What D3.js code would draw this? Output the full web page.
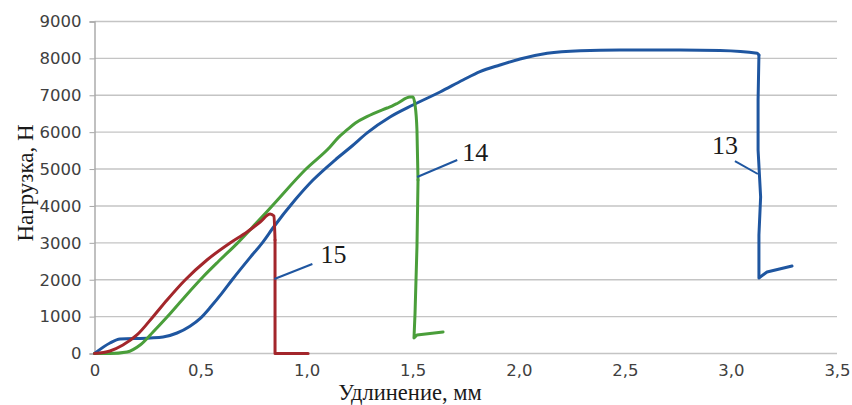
<!DOCTYPE html>
<html>
<head>
<meta charset="utf-8">
<script src="https://cdn.jsdelivr.net/npm/d3@7"></script>
<style>
  body { margin: 0; background: #fff; }
  .tick text { font-family: "DejaVu Sans", sans-serif; font-size: 16.5px; fill: #404040; }
  .axis-title, .mark-label { font-family: "Liberation Serif", "Times New Roman", serif; fill: #1a1a1a; }
</style>
</head>
<body>
<div id="chart"></div>
<script>
const width = 852;
const height = 405;

// elongation (mm) / load (N)
const s13x = [0, 0.073, 0.120, 0.262, 0.323, 0.389, 0.450, 0.500, 0.550, 0.600, 0.649, 0.733, 0.791, 0.841, 0.945, 1.030, 1.134, 1.214, 1.285, 1.393, 1.501, 1.629, 1.737, 1.817, 1.911, 2.006, 2.134, 2.290, 2.477, 2.760, 2.949, 3.124, 3.132, 3.128, 3.128, 3.140, 3.132, 3.132, 3.170, 3.288];
const s13y = [0, 285, 393, 420, 447, 556, 740, 960, 1280, 1630, 2000, 2600, 3000, 3402, 4161, 4703, 5245, 5625, 5980, 6411, 6736, 7089, 7414, 7640, 7820, 7983, 8138, 8208, 8227, 8227, 8214, 8138, 8092, 6872, 5516, 4242, 3212, 2047, 2209, 2372];

const s14x = [0, 0.073, 0.153, 0.215, 0.276, 0.342, 0.417, 0.511, 0.585, 0.675, 0.757, 0.837, 0.997, 1.110, 1.150, 1.190, 1.230, 1.284, 1.379, 1.402, 1.431, 1.487, 1.501, 1.511, 1.520, 1.525, 1.520, 1.511, 1.506, 1.520, 1.643];
const s14y = [0, 0, 41, 230, 583, 989, 1480, 2074, 2500, 3000, 3500, 4000, 5002, 5600, 5860, 6060, 6250, 6420, 6655, 6709, 6791, 6953, 6953, 6736, 6059, 4703, 2887, 1098, 420, 502, 583];

const s15x = [0, 0.073, 0.134, 0.200, 0.276, 0.342, 0.427, 0.530, 0.639, 0.719, 0.781, 0.828, 0.846, 0.851, 0.851, 1.007];
const s15y = [0, 68, 230, 502, 998, 1450, 1992, 2535, 2995, 3294, 3565, 3782, 3727, 3077, 0, 0];

const seriesNames = ['13', '14', '15'];
const seriesColors = ['#1f56a0', '#4a9e3a', '#a3262b'];

// curve numbers with their leader lines (data coordinates)
const labelX = [2.911, 1.733, 1.065];
const labelY = [5400, 5218, 2453];
const leaderX1 = [3.019, 1.710, 1.027];
const leaderY1 = [5218, 5245, 2426];
const leaderX2 = [3.127, 1.521, 0.848];
const leaderY2 = [4866, 4784, 2020];

const xTicks = [0, 0.5, 1.0, 1.5, 2.0, 2.5, 3.0, 3.5];
const yTicks = [0, 1000, 2000, 3000, 4000, 5000, 6000, 7000, 8000, 9000];

const zip = (xs, ys) => xs.map((x, i) => ({x, y: ys[i]}));
const series = [zip(s13x, s13y), zip(s14x, s14y), zip(s15x, s15y)];

// split a curve where x stops growing: smooth loading part, straight break part
const split = pts => {
  let k = pts.findIndex((p, i) => i > 0 && i < pts.length - 1 && pts[i + 1].x <= p.x);
  if (k < 0) k = pts.length - 1;
  return [pts.slice(0, k + 1), pts.slice(k)];
};

const x = d3.scaleLinear().domain([0, 3.5]).range([94.5, 837]);
const y = d3.scaleLinear().domain([0, 9000]).range([353.5, 21.5]);

const svg = d3.select('#chart')
  .append('svg')
    .attr('width', width)
    .attr('height', height);

// horizontal grid
svg.append('g')
  .selectAll('line')
  .data(yTicks)
  .enter()
    .append('line')
    .attr('x1', x(0))
    .attr('x2', x(3.5))
    .attr('y1', d => y(d))
    .attr('y2', d => y(d))
    .attr('stroke', '#c4c4c4')
    .attr('stroke-width', 1.4);

const yAxis = svg.append('g')
  .attr('transform', `translate(${x(0)},0)`)
  .call(d3.axisLeft(y).tickValues(yTicks).tickSize(5).tickPadding(8).tickFormat(d3.format('d')));
yAxis.select('.domain').attr('stroke', '#a6a6a6').attr('stroke-width', 1.4);
yAxis.selectAll('.tick line').attr('stroke', '#a6a6a6');

const fmt = d => d === 0 ? '0' : d3.format('.1f')(d).replace('.', ',');
const xAxis = svg.append('g')
  .attr('transform', `translate(0,${y(0)})`)
  .call(d3.axisBottom(x).tickValues(xTicks).tickSize(0).tickPadding(11).tickFormat(fmt));
xAxis.select('.domain').remove();

const smooth = d3.line()
  .x(d => x(d.x))
  .y(d => y(d.y))
  .curve(d3.curveMonotoneX);

const straight = d3.line()
  .x(d => x(d.x))
  .y(d => y(d.y));

const curves = svg.append('g')
  .selectAll('g')
  .data(series)
  .enter()
    .append('g')
    .attr('fill', 'none')
    .attr('stroke', (d, i) => seriesColors[i])
    .attr('stroke-width', 3)
    .attr('stroke-linejoin', 'round')
    .attr('stroke-linecap', 'round');

curves.append('path').attr('d', d => smooth(split(d)[0]));
curves.append('path').attr('d', d => straight(split(d)[1]));

// leaders + numbers
const marks = svg.append('g');
seriesNames.forEach((name, i) => {
  marks.append('line')
    .attr('x1', x(leaderX1[i]))
    .attr('y1', y(leaderY1[i]))
    .attr('x2', x(leaderX2[i]))
    .attr('y2', y(leaderY2[i]))
    .attr('stroke', '#1f56a0')
    .attr('stroke-width', 2);
  marks.append('text')
    .attr('class', 'mark-label')
    .attr('x', x(labelX[i]))
    .attr('y', y(labelY[i]))
    .attr('font-size', 26)
    .text(name);
});

svg.append('text')
  .attr('class', 'axis-title')
  .attr('x', 410)
  .attr('y', 400)
  .attr('text-anchor', 'middle')
  .attr('font-size', 22.5)
  .text('Удлинение, мм');

svg.append('text')
  .attr('class', 'axis-title')
  .attr('transform', 'translate(33,183) rotate(-90)')
  .attr('text-anchor', 'middle')
  .attr('font-size', 23)
  .text('Нагрузка, Н');
</script>
</body>
</html>
